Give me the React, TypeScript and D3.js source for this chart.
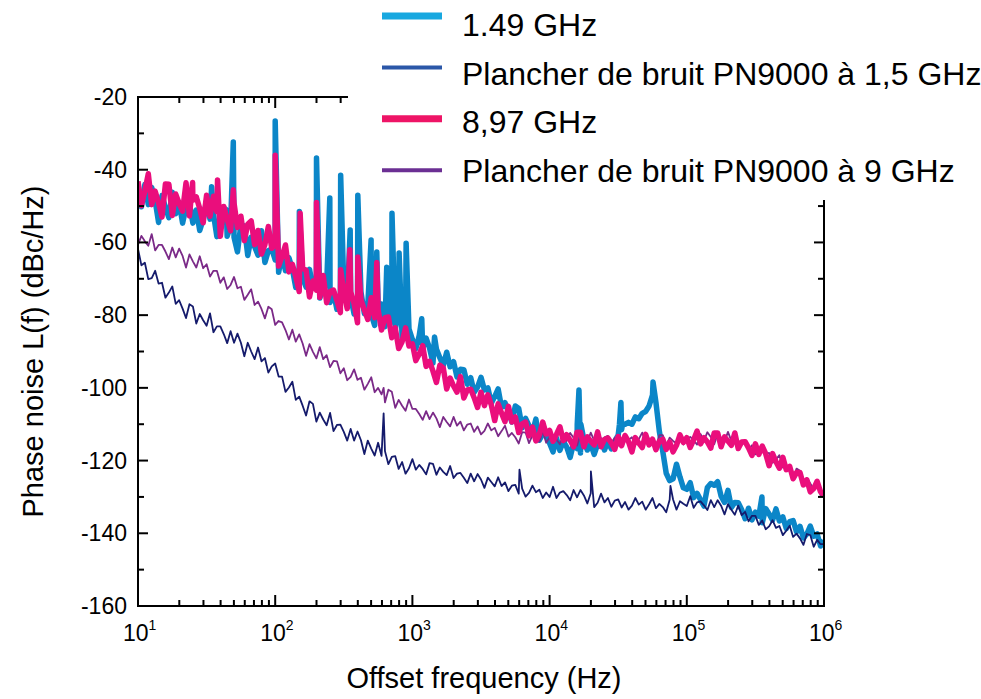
import React from "react";
import * as d3 from "d3";

// ---------- DATA ----------
// Sampling grid: log10(f) from 1 to 6 in steps of 0.025 decade (201 samples)
const LOG_START = 1;
const LOG_STEP = 0.025;
const N_POINTS = 201;

// 1.49 GHz measurement (dBc/Hz)
const blue149: number[] = [
  -46.1, -50.2, -44.1, -49.6,
  -44.9, -48.5, -54.5, -47.1,
  -50.4, -53.2, -46.2, -52.1,
  -49, -54.7, -50.4, -49.2,
  -54.7, -51.1, -56.7, -53.7,
  -48.5, -53.6, -52.2, -58.4,
  -54.8, -50.6, -58.3, -55.4,
  -58.6, -62.6, -55.1, -55.5,
  -63.6, -58.6, -61.2, -63.5,
  -56.8, -65.5, -62.3, -61.8,
  -64.8, -68.2, -63.4, -67.8,
  -64.2, -67.3, -72.4, -66.9,
  -69.8, -72.3, -67.4, -72.4,
  -70.5, -75.3, -72.3, -71.8,
  -76.5, -73.8, -78.4, -76.2,
  -72.4, -76.3, -75, -79.7,
  -76.9, -73.6, -79.6, -77.3,
  -79.8, -82.8, -76.8, -76.9,
  -83.2, -79.5, -81.9, -83.9,
  -78.9, -86.1, -83.9, -83.8,
  -86.7, -89.2, -85.6, -89.1,
  -86.3, -89.1, -93.2, -89.3,
  -91.7, -93.9, -90.2, -94.2,
  -92.8, -97, -94.9, -95,
  -99, -97.2, -101.2, -99.8,
  -97.1, -100.6, -100, -104.2,
  -102.4, -100.3, -105.4, -104.1,
  -106.5, -109.4, -105, -105.7,
  -111, -108.4, -110.4, -112.3,
  -108.6, -114.4, -112.7, -112.8,
  -115.2, -117.6, -113.8, -117.2,
  -114.7, -116.3, -119.1, -115.2,
  -116.7, -117.9, -114.3, -117.1,
  -115.5, -118.3, -115.5, -114.4,
  -117.1, -114.6, -116.8, -114.7,
  -113, -111.5, -110, -109.5,
  -110, -108, -108.5, -107,
  -106.5, -105, -102, -104,
  -112, -117.5, -123.5, -125.5,
  -125, -121, -124.5, -127.5,
  -127.9, -126.1, -130.2, -129,
  -130.8, -132.5, -127.4, -126.3,
  -126.8, -125.8, -129.8, -131.5,
  -128.2, -132.9, -131.5, -131.6,
  -133.5, -136, -133.1, -136.3,
  -134.2, -135.3, -137.1, -133.2,
  -134.7, -136.4, -133.3, -136.6,
  -135.5, -138.7, -136.8, -136.5,
  -139.6, -138.1, -141.3, -140.2,
  -138, -140.8, -140.2, -143.5,
  -142,
];
// Narrow spurs: [frequency Hz, level dBc/Hz]
const blue149Spikes: [number, number][] = [
  [34.4, -44.7], [44, -51], [49.5, -32.4], [100, -26.6], [150, -51.5],
  [200, -36.8], [250, -47.8], [300, -41.5], [352, -56.6], [400, -47],
  [500, -59.3], [550, -62.6], [650, -66.8], [710, -52], [800, -62.9],
  [900, -60.2], [1170, -81], [1450, -86],
  [15900, -110], [16370, -100.6], [16900, -110],
  [32300, -110], [33100, -104], [34000, -110],
  [56750, -98.4], [353000, -130],
];

// PN9000 noise floor at 1.5 GHz
const floor15: number[] = [
  -61.8, -66.3, -65.6, -70.1,
  -69.8, -67.8, -71.3, -71.1,
  -75.2, -73.8, -72.1, -76.9,
  -75.9, -78.2, -80.8, -77,
  -77.6, -82.3, -79.7, -81.4,
  -82.9, -79.5, -84.7, -83.1,
  -83.1, -85.2, -87.7, -84.4,
  -87.6, -85.1, -87.6, -91.3,
  -87.6, -90, -92.1, -88.9,
  -92.7, -91.8, -95.8, -94.1,
  -93.3, -96.9, -96.9, -101.1,
  -99.9, -98.3, -103.3, -102.4,
  -104.9, -107.6, -103.7, -104.4,
  -109.3, -106.8, -108.7, -110.3,
  -106.9, -111.9, -110.2, -110.1,
  -112.1, -114.5, -111.3, -114.5,
  -112, -114.4, -118.2, -114.5,
  -116.7, -118.6, -115.1, -118.7,
  -117.4, -121, -119, -118.8,
  -122.3, -120.4, -123.6, -122.1,
  -119.6, -122.5, -121.2, -122.3,
  -123.8, -120.7, -120.9, -123.9,
  -121.9, -123.1, -124, -121.5,
  -124.8, -123.6, -123.4, -124.7,
  -126.2, -123.6, -125.7, -123.7,
  -125.2, -127.5, -124.7, -125.9,
  -127.1, -124.6, -127, -126,
  -128.4, -126.9, -126.7, -129.1,
  -127.7, -129.9, -128.9, -126.9,
  -128.7, -128, -130.3, -128.8,
  -130, -127.2, -130.3, -128.8,
  -128.4, -129.5, -130.9, -128.1,
  -130.1, -128.1, -129.6, -131.8,
  -129, -132.8, -131.6, -129.1,
  -131.5, -130.3, -132.7, -131,
  -130.7, -132.9, -131.4, -133.5,
  -132.4, -130.3, -132.1, -131.3,
  -133.5, -132, -130.3, -133.1,
  -131.9, -132.8, -134.2, -130.8,
  -130.7, -133.5, -131.2, -131.9,
  -132.5, -129.8, -133, -131.5,
  -131.2, -132.3, -133.6, -130.9,
  -132.8, -130.9, -132.4, -134.8,
  -132, -133.5, -134.9, -132.4,
  -135, -134.1, -136.7, -135.2,
  -135.2, -137.7, -136.5, -138.9,
  -138.1, -136.4, -138.5, -138,
  -140.5, -139.3, -137.9, -141,
  -140.1, -141.4, -143.2, -140.2,
  -140.5, -143.7, -141.8, -143,
  -143,
];
const floor15Spikes: [number, number][] = [
  [617, -107], [6030, -122.5], [20000, -123], [76000, -127],
];

// 8.97 GHz measurement
const pink897: number[] = [
  -43.2, -49.9, -45.8, -41.1,
  -49.6, -45.9, -49.1, -53,
  -43.9, -44, -52.6, -46.7,
  -49.3, -51.4, -43.6, -52.7,
  -48.4, -47.5, -50.7, -54.6,
  -47, -52.8, -47.3, -51.5,
  -58.3, -50.1, -53.7, -56.8,
  -49.2, -55.9, -52.8, -59.5,
  -55, -54.1, -60.6, -56.7,
  -63.2, -60.6, -55.6, -61.6,
  -60.6, -66.5, -63.8, -60.7,
  -68.1, -66, -69.4, -73.5,
  -67.1, -67.6, -75, -70.6,
  -73.1, -75.1, -69.1, -76.6,
  -73.5, -73.1, -76, -79.3,
  -73.6, -78.2, -73.6, -76.8,
  -82.1, -75.7, -78.6, -81.2,
  -75.2, -80.7, -78.5, -84.1,
  -80.7, -80.5, -86.2, -83.5,
  -89.2, -87.3, -83.5, -88.5,
  -87.9, -92.5, -90.7, -88.4,
  -94.1, -92.7, -95.4, -98.5,
  -93.8, -94.5, -100.3, -97.3,
  -99.5, -101.2, -96.9, -102.8,
  -100.6, -100.4, -102.7, -105.4,
  -101.2, -104.9, -101.9, -104.7,
  -109, -104.4, -107, -109.3,
  -105.1, -109.4, -108, -112.3,
  -109.9, -109.4, -113.2, -110.8,
  -114.6, -112.8, -109.4, -112.7,
  -111.7, -114.7, -112.8, -110.7,
  -114.5, -112.9, -114.4, -116.2,
  -112.2, -112.2, -116.2, -113.5,
  -114.7, -115.7, -112.1, -116.2,
  -114.2, -113.8, -115.2, -116.9,
  -113.4, -115.9, -113.1, -114.8,
  -117.6, -113.7, -115.2, -116.4,
  -112.8, -115.7, -114.1, -117,
  -114.7, -114.1, -116.9, -114.9,
  -117.6, -115.8, -112.9, -115,
  -113.7, -116.4, -114.3, -111.9,
  -115.4, -113.7, -114.9, -116.6,
  -112.4, -112.4, -116.2, -113.5,
  -114.6, -115.8, -112.4, -116.7,
  -114.9, -114.8, -116.5, -118.6,
  -115.4, -118.3, -116, -118.1,
  -121.4, -118.1, -120.3, -122.1,
  -119.1, -122.5, -121.6, -125,
  -123.3, -123.3, -126.7, -125.3,
  -128.6, -127.7, -125.7, -128.6,
  -129.5,
];
const pink897Spikes: [number, number][] = [
  [25, -43.5], [38, -42.8], [49.5, -45.5], [100, -36], [152, -52],
  [200, -49], [300, -67.5], [350, -62], [400, -64], [550, -65.5],
];

// PN9000 noise floor at 9 GHz
const floor9: number[] = [
  -60.6, -58.2, -59.7, -60.9,
  -57.7, -62.2, -60.7, -60.7,
  -62.5, -64.6, -61.4, -64.1,
  -61.7, -63.7, -66.9, -63.3,
  -65.2, -66.9, -63.8, -67.1,
  -66, -69.4, -67.8, -67.8,
  -71.1, -69.6, -72.8, -71.7,
  -69.5, -72.6, -72.2, -75.8,
  -74.4, -72.9, -77.2, -76.3,
  -78.3, -80.9, -77.7, -78.4,
  -82.7, -81.6, -82, -84.1,
  -86.7, -84, -87.3, -85.3,
  -87.8, -91.2, -88, -90.1,
  -91.9, -88.8, -92.1, -91,
  -94.3, -92.6, -92.7, -96,
  -94.6, -97.9, -97, -94.9,
  -97.8, -97.2, -100.5, -98.9,
  -97.1, -101.2, -100, -101.8,
  -104, -100.5, -101.1, -105.5,
  -103.3, -104.9, -106.3, -103.2,
  -105.8, -105.8, -107.2, -108.8,
  -106.4, -108.6, -106.8, -108.4,
  -110.8, -108, -109.4, -110.6,
  -108, -110.4, -109.3, -111.7,
  -110.1, -109.8, -112.1, -110.6,
  -112.8, -111.8, -109.8, -111.7,
  -111, -113.3, -111.9, -110.4,
  -113.4, -112.4, -113.6, -115.3,
  -112.2, -112.3, -115.2, -113.1,
  -114.1, -114.8, -112, -115.1,
  -113.6, -113.2, -114.2, -115.5,
  -112.7, -114.6, -112.4, -113.7,
  -115.9, -112.9, -114, -115,
  -112.3, -114.5, -113.2, -115.4,
  -113.6, -113.2, -115.3, -113.7,
  -115.9, -114.7, -112.6, -114.3,
  -113.6, -115.7, -114.1, -112.3,
  -115.2, -113.9, -114.9, -116.3,
  -113, -113, -115.9, -113.7,
  -114.6, -115.3, -112.5, -115.6,
  -114, -113.5, -114.4, -115.6,
  -112.7, -114.5, -112.2, -113.5,
  -115.5, -112.6, -113.8, -114.8,
  -112.1, -114.6, -113.6, -116.1,
  -114.6, -114.6, -117.1, -115.8,
  -118.3, -117.6, -116, -118.2,
  -117.9, -120.6, -119.7, -118.5,
  -121.9, -121.2, -122.9, -124.9,
  -122.2, -122.8, -126.4, -124.8,
  -126.3, -127.8, -125.7, -129.6,
  -129,
];
const floor9Spikes: [number, number][] = [[617, -100]];

const yTickLabels = [-20, -40, -60, -80, -100, -120, -140, -160];
const xDecades = [1, 2, 3, 4, 5, 6];
const legendLabels = [
  "1.49 GHz",
  "Plancher de bruit PN9000 à 1,5 GHz",
  "8,97 GHz",
  "Plancher de bruit PN9000 à 9 GHz",
];

// ---------- LAYOUT ----------
const W = 981, H = 699;
const L = 138, R = 824, T = 97, B = 606;
const FONT = "'Liberation Sans', Arial, Helvetica, sans-serif";

const x = d3.scaleLog().domain([10, 1e6]).range([L, R]);
const y = d3.scaleLinear().domain([-160, -20]).range([B, T]);

type P = { f: number; v: number };
function build(vals: number[], spikes: [number, number][]): P[] {
  const pts: P[] = d3.range(N_POINTS).map((i) => ({
    f: Math.pow(10, LOG_START + i * LOG_STEP),
    v: vals[i],
  }));
  spikes.forEach(([f, v]) => pts.push({ f, v }));
  pts.sort((a, b) => a.f - b.f);
  return pts;
}

const line = d3
  .line<P>()
  .x((d) => x(d.f))
  .y((d) => y(d.v));

const series = [
  { data: build(blue149, blue149Spikes), color: "#0b86c8", w: 5.5 },
  { data: build(floor15, floor15Spikes), color: "#151b6c", w: 1.8 },
  { data: build(floor9, floor9Spikes), color: "#7b2a88", w: 1.8 },
  { data: build(pink897, pink897Spikes), color: "#ea0e7c", w: 5.5 },
];

const legendStyle = [
  { color: "#18a8e0", w: 7 },
  { color: "#2b57a8", w: 4 },
  { color: "#ee1466", w: 7 },
  { color: "#6b2f93", w: 4 },
];

export default function App() {
  const xMinor: number[] = [];
  for (let k = 1; k < 6; k++)
    for (let m = 2; m <= 9; m++) xMinor.push(m * Math.pow(10, k));
  const yMinor = d3.range(-150, -20, 20);
  const TOP_END = 348;
  const RIGHT_START = 200;

  return (
    <svg
      width={W}
      height={H}
      style={{ position: "absolute", left: 0, top: 0, background: "#fff" }}
      fontFamily={FONT}
    >
      <defs>
        <clipPath id="plotclip">
          <rect x={L} y={T} width={R - L} height={B - T} />
        </clipPath>
      </defs>

      {/* data */}
      <g clipPath="url(#plotclip)" fill="none" strokeLinejoin="round">
        {series.map((s, i) => (
          <path key={i} d={line(s.data) || ""} stroke={s.color} strokeWidth={s.w} />
        ))}
      </g>

      {/* axes frame */}
      <g stroke="#000" strokeWidth={2} fill="none">
        <line x1={L} y1={T - 1} x2={L} y2={B + 1} />
        <line x1={L - 1} y1={B} x2={R + 1} y2={B} />
        <line x1={R} y1={RIGHT_START} x2={R} y2={B + 1} />
        <line x1={L - 1} y1={T} x2={TOP_END} y2={T} />
        {xDecades.map((d) => (
          <line key={"bd" + d} x1={x(Math.pow(10, d))} x2={x(Math.pow(10, d))} y1={B} y2={B - 11} />
        ))}
        {xMinor.map((f) => (
          <line key={"bm" + f} x1={x(f)} x2={x(f)} y1={B} y2={B - 6} />
        ))}
        {xDecades
          .filter((d) => x(Math.pow(10, d)) <= TOP_END)
          .map((d) => (
            <line key={"td" + d} x1={x(Math.pow(10, d))} x2={x(Math.pow(10, d))} y1={T} y2={T + 11} />
          ))}
        {xMinor
          .filter((f) => x(f) <= TOP_END)
          .map((f) => (
            <line key={"tm" + f} x1={x(f)} x2={x(f)} y1={T} y2={T + 6} />
          ))}
        {yTickLabels.map((v) => (
          <g key={"yt" + v}>
            <line x1={L} x2={L + 10} y1={y(v)} y2={y(v)} />
            {y(v) >= RIGHT_START && <line x1={R} x2={R - 10} y1={y(v)} y2={y(v)} />}
          </g>
        ))}
        {yMinor.map((v) => (
          <g key={"ym" + v}>
            <line x1={L} x2={L + 6} y1={y(v)} y2={y(v)} />
            {y(v) >= RIGHT_START && <line x1={R} x2={R - 6} y1={y(v)} y2={y(v)} />}
          </g>
        ))}
      </g>

      {/* y tick labels */}
      <g fontSize={23} fill="#000" textAnchor="end">
        {yTickLabels.map((v) => (
          <text key={"yl" + v} x={127} y={y(v)} dy="0.35em">
            {v}
          </text>
        ))}
      </g>

      {/* x tick labels */}
      <g fontSize={23} fill="#000">
        {xDecades.map((d) => (
          <text key={"xl" + d} x={x(Math.pow(10, d)) - 15} y={641}>
            10
            <tspan fontSize={14} dy={-11}>
              {d}
            </tspan>
          </text>
        ))}
      </g>

      {/* axis titles */}
      <text x={(L + R) / 2 + 3} y={688} fontSize={29} textAnchor="middle" fill="#000">
        Offset frequency (Hz)
      </text>
      <text
        transform={`translate(43, ${(T + B) / 2}) rotate(-90)`}
        fontSize={29}
        textAnchor="middle"
        fill="#000"
      >
        Phase noise L(f) (dBc/Hz)
      </text>

      {/* legend */}
      <g>
        {legendLabels.map((lab, i) => {
          const ly = 16 + i * 51.4;
          return (
            <g key={lab}>
              <line
                x1={382}
                x2={442}
                y1={ly}
                y2={ly}
                stroke={legendStyle[i].color}
                strokeWidth={legendStyle[i].w}
              />
              <text x={462} y={36 + i * 48.7} fontSize={32} fill="#000">
                {lab}
              </text>
            </g>
          );
        })}
      </g>
    </svg>
  );
}
